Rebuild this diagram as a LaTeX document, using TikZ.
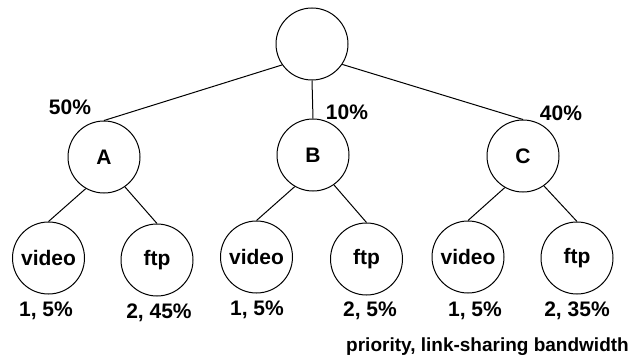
\documentclass[tikz,border=0pt]{standalone}
\usepackage{fontspec}
\setmainfont{Liberation Sans}
\begin{document}
\begin{tikzpicture}[x=0.5pt,y=-0.5pt]
	\tikzset{every node/.style={font=\fontsize{10.5}{12}\selectfont\bfseries,inner sep=0pt}}
	\tikzset{class/.style={draw,circle,minimum size=36pt,line width=0.5pt}}
	\tikzset{every path/.style={line width=0.5pt}}
	\useasboundingbox (0,0) rectangle (642,358);
	% root and the three classes
	\node[class] (root) at (312,44) {};
	\node[class] (A) at (104,157) {A};
	\node[class] (B) at (313,155) {B};
	\node[class] (C) at (523,156) {C};
	\node (pA) at (70,107) {50\%};
	\node (pB) at (347,112) {10\%};
	\node (pC) at (561,113) {40\%};
	\foreach \p/\c in {root.215/A, root.south/B, root.-34/C} \draw (\p) -- (\c.north);
	% leaves
	\node[class] (Avideo) at (48.5,258) {video};
	\node[class] (Aftp) at (157,260) {ftp};
	\node[class] (Bvideo) at (256.5,257) {video};
	\node[class] (Bftp) at (366.5,259) {ftp};
	\node[class] (Cvideo) at (468,257) {video};
	\node[class] (Cftp) at (577,258) {ftp};
	\foreach \c in {A,B,C} {
		\draw (\c.-120) -- (\c video.north);
		\draw (\c.-55) -- (\c ftp.north);
	}
	\node (Avideo-lbl) at (46,311) {1, 5\%};
	\node (Aftp-lbl) at (159,313) {2, 45\%};
	\node (Bvideo-lbl) at (257,310) {1, 5\%};
	\node (Bftp-lbl) at (370,311) {2, 5\%};
	\node (Cvideo-lbl) at (475,311) {1, 5\%};
	\node (Cftp-lbl) at (577,311) {2, 35\%};
	\node[font=\fontsize{9.5}{11}\selectfont\bfseries] (legend) at (487.5,347) {priority, link-sharing bandwidth};
\end{tikzpicture}
\end{document}
